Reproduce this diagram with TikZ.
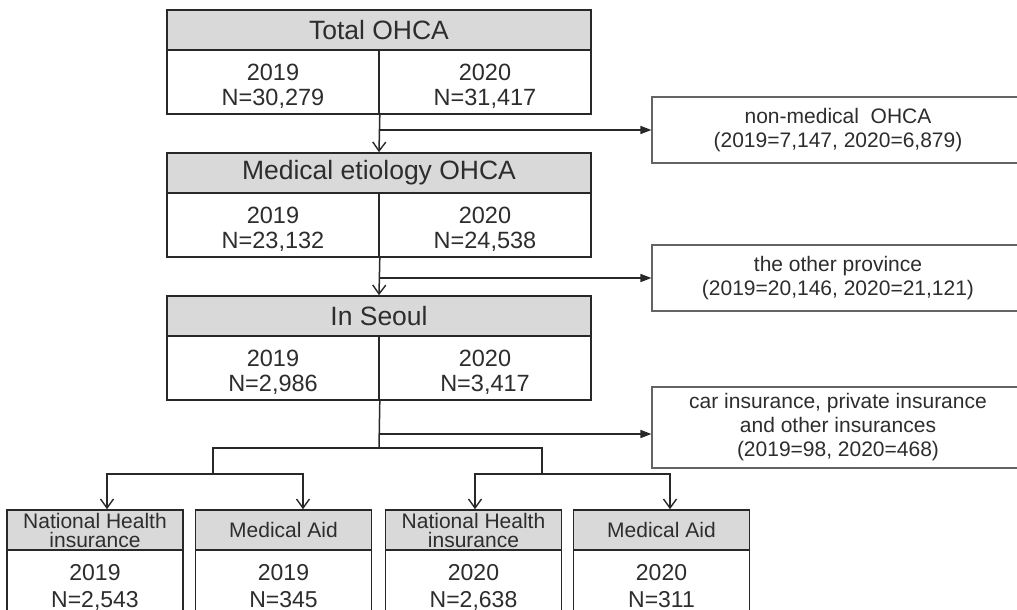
\documentclass[tikz,border=0pt]{standalone}
\usepackage{fontspec}
\setmainfont{Liberation Sans}
\usetikzlibrary{arrows.meta}
\definecolor{hdrgray}{RGB}{217,217,217}
\definecolor{linec}{RGB}{40,40,40}
\definecolor{sidec}{RGB}{100,100,100}
\definecolor{textc}{RGB}{45,45,45}
\newcommand\toplinestrut{\rule{0pt}{30pt}}
\newcommand\botlinestrut{\rule[-7.5pt]{0pt}{0pt}}
\newcommand\btopstrut{\rule{0pt}{24.5pt}}
\newcommand\bdepth{\rule[-8pt]{0pt}{0pt}}
\begin{document}
\begin{tikzpicture}[x=1pt,y=-1pt,
  hdr/.style={draw=linec, fill=hdrgray, line width=1.6pt, inner sep=0pt,
    minimum height=40pt, text=textc, font=\fontsize{26.5}{28}\selectfont},
  bodybox/.style={draw=linec, fill=white, line width=1.6pt, inner sep=0pt,
    minimum height=64pt, minimum width=212pt, align=center, text=textc,
    font=\fontsize{23.5}{25}\selectfont},
  sidebox/.style={draw=sidec, fill=white, line width=1.1pt, inner sep=0pt,
    minimum width=372pt, align=center, text=textc,
    font=\fontsize{21}{23.5}\selectfont},
  bhdr/.style={draw=linec, fill=hdrgray, line width=1.6pt, inner sep=0pt,
    minimum height=40pt, minimum width=176pt, align=center, text=textc,
    font=\fontsize{21}{19}\selectfont},
  bbody/.style={draw=linec, fill=white, line width=1.6pt, inner sep=0pt,
    minimum height=72pt, minimum width=176pt, align=center, text=textc,
    font=\fontsize{23}{27}\selectfont},
  conn/.style={draw=linec, line width=1.5pt},
  arr/.style={conn, -{Straight Barb[length=9pt,width=13pt,line width=1.4pt]}},
  sarr/.style={conn, -{Triangle[length=11pt,width=8pt]}}
]
\useasboundingbox (0,0) rectangle (1017,610);
\fill[white] (0,0) rectangle (1017,610);

% Total OHCA
\node[hdr, minimum width=424pt] (tot) at (379,30) {Total OHCA};
\node[bodybox] (tot19) at (273,82) {\toplinestrut 2019\\N=30,279\botlinestrut};
\node[bodybox] (tot20) at (485,82) {\toplinestrut 2020\\N=31,417\botlinestrut};

% Medical etiology
\node[hdr, minimum width=424pt] (med) at (379,173) {Medical etiology OHCA};
\node[bodybox] (med19) at (273,225) {\toplinestrut 2019\\N=23,132\botlinestrut};
\node[bodybox] (med20) at (485,225) {\toplinestrut 2020\\N=24,538\botlinestrut};

% In Seoul
\node[hdr, minimum width=424pt] (seoul) at (379,316) {In Seoul};
\node[bodybox] (seoul19) at (273,368) {\toplinestrut 2019\\N=2,986\botlinestrut};
\node[bodybox] (seoul20) at (485,368) {\toplinestrut 2020\\N=3,417\botlinestrut};

% side boxes
\node[sidebox, minimum height=66pt] (nonmed) at (838,130) {non-medical\ \ OHCA\\(2019=7,147, 2020=6,879)};
\node[sidebox, minimum height=66pt] (prov) at (838,278) {the other province\\(2019=20,146, 2020=21,121)};
\node[sidebox, minimum height=81pt, font=\fontsize{21}{24}\selectfont] (oth) at (838,427.5) {car insurance, private insurance\\and other insurances\\(2019=98, 2020=468)};

% bottom boxes
\node[bhdr] (bh1) at (95,530) {National Health\\insurance};
\node[bbody] (bb1) at (95,586) {\btopstrut 2019\\N=2,543\bdepth};
\node[bhdr] (bh2) at (283.5,530) {Medical Aid};
\node[bbody] (bb2) at (283.5,586) {\btopstrut 2019\\N=345\bdepth};
\node[bhdr] (bh3) at (473.5,530) {National Health\\insurance};
\node[bbody] (bb3) at (473.5,586) {\btopstrut 2020\\N=2,638\bdepth};
\node[bhdr] (bh4) at (661.5,530) {Medical Aid};
\node[bbody] (bb4) at (661.5,586) {\btopstrut 2020\\N=311\bdepth};

% connectors top
\draw[arr] (tot19.south east) -- (med.north);
\draw[sarr] (tot19.south east |- nonmed.west) -- (nonmed.west);
\draw[arr] (med19.south east) -- (seoul.north);
\draw[sarr] (med19.south east |- prov.west) -- (prov.west);

% connectors bottom
\coordinate (j0) at (379,448);
\coordinate (j1) at (379,434);
\coordinate (jL) at (213,448);
\coordinate (jR) at (542,448);
\coordinate (kL) at (213,474);
\coordinate (kR) at (542,474);
\coordinate (a1) at (107,474);
\coordinate (a2) at (303,474);
\coordinate (a3) at (475,474);
\coordinate (a4) at (670,474);
\draw[conn] (seoul19.south east) -- (j0);
\draw[sarr] (j1) -- (j1 -| oth.west);
\draw[conn] (kL) -- (jL) -- (jR) -- (kR);
\draw[arr] (kL) -- (a1) -- (a1 |- bh1.north);
\draw[arr] (kL) -- (a2) -- (a2 |- bh2.north);
\draw[arr] (kR) -- (a3) -- (a3 |- bh3.north);
\draw[arr] (kR) -- (a4) -- (a4 |- bh4.north);
\end{tikzpicture}
\end{document}
